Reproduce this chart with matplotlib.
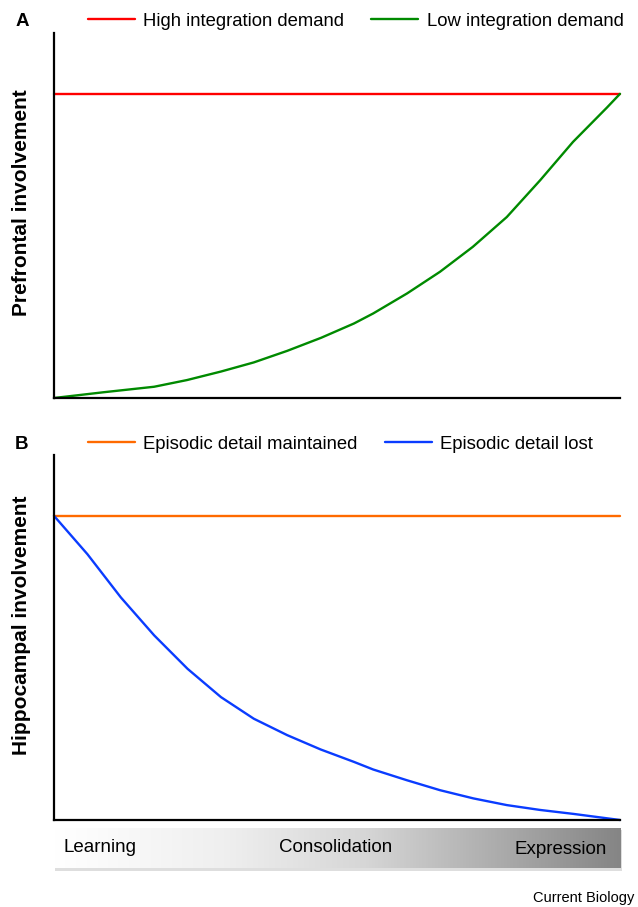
import numpy as np
import matplotlib
matplotlib.use("Agg")
import matplotlib.pyplot as plt
from matplotlib.colors import LinearSegmentedColormap
from matplotlib.patches import Rectangle

plt.rcParams['font.family'] = ['Liberation Sans', 'DejaVu Sans']

# panel A data (time 0..1, involvement 0..1)
t_high = [0, 1]
high_integration = [1, 1]
t_low = [0, 0.088, 0.177, 0.235, 0.295, 0.353, 0.412, 0.472, 0.530, 0.564,
         0.624, 0.682, 0.740, 0.800, 0.859, 0.917, 0.977, 1.0]
low_integration = [0, 0.019, 0.037, 0.059, 0.087, 0.117, 0.155, 0.198, 0.245, 0.278,
                   0.344, 0.415, 0.497, 0.595, 0.716, 0.842, 0.955, 1.0]

# panel B data
t_kept = [0, 1]
detail_kept = [1, 1]
t_lost = [0, 0.059, 0.118, 0.177, 0.236, 0.295, 0.353, 0.412, 0.471, 0.530,
          0.564, 0.623, 0.682, 0.741, 0.800, 0.859, 0.918, 1.0]
detail_lost = [1, 0.874, 0.732, 0.607, 0.497, 0.404, 0.333, 0.279, 0.232, 0.191,
               0.166, 0.131, 0.098, 0.071, 0.049, 0.033, 0.020, 0]

stages = ["Learning", "Consolidation", "Expression"]

W, H = 638, 907
fig = plt.figure(figsize=(W / 100, H / 100), dpi=100)


def px_axes(x0, y0, x1, y1):
    return fig.add_axes([x0 / W, 1 - y1 / H, (x1 - x0) / W, (y1 - y0) / H])


def style(ax):
    ax.set_xlim(0, 1)
    ax.set_ylim(0, 1.2)
    ax.margins(0)
    for s in ["top", "right"]:
        ax.spines[s].set_visible(False)
    for s in ["left", "bottom"]:
        ax.spines[s].set_linewidth(1.6)
    ax.set_xticks([])
    ax.set_yticks([])


leg_kw = dict(loc="center left", ncol=2, frameon=False, fontsize=13.3,
              handlelength=2.55, handletextpad=0.45, columnspacing=1.45,
              borderaxespad=0, borderpad=0)
line_kw = dict(lw=1.7, clip_on=False, solid_joinstyle="round", solid_capstyle="round")

axA = px_axes(54, 33, 620, 398)
style(axA)
axA.plot(t_high, high_integration, color="#ff0000", label="High integration demand", **line_kw)
axA.plot(t_low, low_integration, color="#008a00", label="Low integration demand", **line_kw)
axA.legend(bbox_to_anchor=(0.06, 1.032), **leg_kw)

axB = px_axes(54, 455, 620, 820)
style(axB)
axB.plot(t_kept, detail_kept, color="#ff6a00", label="Episodic detail maintained", **line_kw)
axB.plot(t_lost, detail_lost, color="#0a3cff", label="Episodic detail lost", **line_kw)
axB.legend(bbox_to_anchor=(0.06, 1.03), **leg_kw)

fig.text(22 / W, 1 - 203 / H, "Prefrontal involvement", rotation=90, fontsize=15,
         fontweight="bold", ha="center", va="center")
fig.text(22 / W, 1 - 625 / H, "Hippocampal involvement", rotation=90, fontsize=15,
         fontweight="bold", ha="center", va="center")
fig.text(22 / W, 1 - 22 / H, "A", fontsize=13.5, fontweight="bold", ha="center", va="center")
fig.text(22 / W, 1 - 445 / H, "B", fontsize=13.5, fontweight="bold", ha="center", va="center")

# timeline bar with a soft shadow underneath
shadow = px_axes(55, 830, 622, 871)
shadow.axis("off")
shadow.add_patch(Rectangle((0, 0), 1, 1, color="#dedede", transform=shadow.transAxes))
bar = px_axes(54, 828, 621, 868)
bar.axis("off")
cmap = LinearSegmentedColormap.from_list(
    "stage", [(0, "#ffffff"), (0.3, "#efefef"), (0.55, "#d6d6d6"), (0.75, "#b2b2b2"), (1, "#858585")])
bar.imshow(np.linspace(0, 1, 256)[None, :], aspect="auto", cmap=cmap, extent=(0, 1, 0, 1))
bar.set_xlim(0, 1)
bar.set_ylim(0, 1)
bar.text(0.016, 0.5, stages[0], fontsize=13.5, ha="left", va="center")
bar.text(0.496, 0.52, stages[1], fontsize=13.5, ha="center", va="center")
bar.text(0.975, 0.46, stages[2], fontsize=13.5, ha="right", va="center")

fig.text(634 / W, 1 - 898 / H, "Current Biology", fontsize=10.5, ha="right", va="center")

fig.savefig("out.png", dpi=100)
